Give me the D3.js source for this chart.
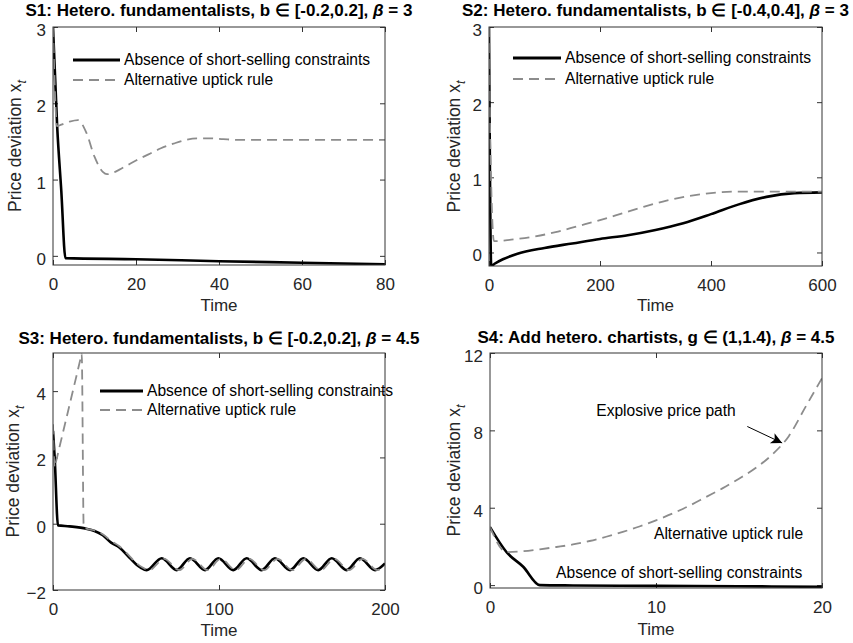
<!DOCTYPE html>
<html>
<head>
<meta charset="utf-8">
<script src="https://cdn.jsdelivr.net/npm/d3@7"></script>
<style>
  body { margin: 0; background: #fff; }
  svg { display: block; font-family: "Liberation Sans", Arial, sans-serif; }
</style>
</head>
<body>
<svg id="chart" width="853" height="643"></svg>
<script>
// ---- data ----
// S1
const s1NoConstraintTime = [0, 1, 2, 3, 20, 40, 60, 80];
const s1NoConstraint     = [3, 1.7, 0.85, -0.03, -0.045, -0.07, -0.09, -0.11];
const s1UptickTime = [0, 1, 2, 4, 6, 8, 10, 12, 13, 14, 16, 18, 20, 23, 26, 29, 32, 35, 38, 41, 45, 50, 60, 70, 80];
const s1Uptick     = [3, 1.7, 1.72, 1.76, 1.78, 1.62, 1.3, 1.1, 1.07, 1.08, 1.13, 1.19, 1.25, 1.33, 1.41, 1.47, 1.52, 1.54, 1.54, 1.53, 1.52, 1.52, 1.52, 1.52, 1.52];

// S2
const s2NoConstraintTime = [0, 4, 10, 25, 50, 100, 150, 200, 250, 300, 350, 400, 450, 500, 550, 600];
const s2NoConstraint     = [3, -0.18, -0.15, -0.09, -0.02, 0.06, 0.12, 0.18, 0.23, 0.3, 0.39, 0.51, 0.64, 0.74, 0.79, 0.8];
const s2UptickTime = [0, 2, 9, 40, 80, 120, 160, 200, 240, 280, 320, 360, 400, 450, 500, 550, 600];
const s2Uptick     = [3, 1.6, 0.15, 0.17, 0.21, 0.27, 0.35, 0.43, 0.52, 0.61, 0.69, 0.75, 0.79, 0.81, 0.81, 0.81, 0.81];

// S3
const s3NoConstraintTime = [0, 1, 3, 10, 20, 25, 30, 35, 40, 45, 50, 53, 56.4, 65.5, 74.5, 82.5, 91.6, 99.6, 108.6, 116.7, 125.7, 133.7, 142.8, 150.8, 159.8, 167.9, 176.9, 184.9, 194, 200];
const s3NoConstraint     = [2.8, 2.0, -0.05, -0.08, -0.15, -0.22, -0.35, -0.57, -0.72, -0.97, -1.22, -1.33, -1.4, -1.04, -1.4, -1.04, -1.4, -1.04, -1.4, -1.04, -1.4, -1.04, -1.4, -1.04, -1.4, -1.04, -1.4, -1.04, -1.4, -1.2];
const s3UptickTime = [0, 1, 2, 9, 16.5, 17.3, 18.5, 20, 25, 30, 35, 40, 45, 50, 54, 57.9, 67, 76, 84, 93.1, 101.1, 110.1, 118.2, 127.2, 135.2, 144.3, 152.3, 161.3, 169.4, 178.4, 186.4, 195.5, 200];
const s3Uptick     = [3, 1.7, 1.91, 3.38, 4.96, 5.13, -0.12, -0.15, -0.2, -0.32, -0.52, -0.68, -0.92, -1.18, -1.32, -1.4, -1.06, -1.4, -1.06, -1.4, -1.06, -1.4, -1.06, -1.4, -1.06, -1.4, -1.06, -1.4, -1.06, -1.4, -1.06, -1.4, -1.26];

// S4
const s4NoConstraintTime = [0, 1, 2, 3, 5, 10, 15, 20];
const s4NoConstraint     = [3, 1.7, 0.95, 0, -0.02, -0.04, -0.06, -0.09];
const s4UptickTime = [0, 1, 2, 3, 4, 5, 6, 7, 8, 9, 10, 11, 12, 13, 14, 15, 16, 17, 18, 19, 20];
const s4Uptick     = [3, 1.7, 1.75, 1.85, 1.97, 2.1, 2.28, 2.5, 2.75, 3.03, 3.35, 3.7, 4.1, 4.55, 5.0, 5.5, 6.05, 6.75, 7.7, 9.2, 10.7];

const legendLabels = ["Absence of short-selling constraints", "Alternative uptick rule"];

const zip = (t, v) => t.map((d, i) => [d, v[i]]);

// ---- layout ----
const panels = [
  { left: 53, right: 385, top: 27, bottom: 265, titleY: 16,
    title: ["S1: Hetero. fundamentalists, b \u2208 [-0.2,0.2], ", "\u03B2", " = 3"],
    xDomain: [0, 80], yDomain: [-0.12, 3], xTicks: [0, 20, 40, 60, 80], yTicks: [0, 1, 2, 3],
    black: zip(s1NoConstraintTime, s1NoConstraint), gray: zip(s1UptickTime, s1Uptick),
    legend: { x: 73, y: 60, len: 47, gap: 20 }, ylabX: 15, xlabY: 311 },
  { left: 489, right: 822, top: 27, bottom: 266, titleY: 16,
    title: ["S2: Hetero. fundamentalists, b \u2208 [-0.4,0.4], ", "\u03B2", " = 3"],
    xDomain: [0, 600], yDomain: [-0.18, 3], xTicks: [0, 200, 400, 600], yTicks: [0, 1, 2, 3],
    black: zip(s2NoConstraintTime, s2NoConstraint), gray: zip(s2UptickTime, s2Uptick),
    legend: { x: 513, y: 58, len: 48, gap: 21 }, ylabX: 454, xlabY: 311 },
  { left: 53, right: 385, top: 353, bottom: 590, titleY: 344,
    title: ["S3: Hetero. fundamentalists, b \u2208 [-0.2,0.2], ", "\u03B2", " = 4.5"],
    xDomain: [0, 200], yDomain: [-2, 5.15], xTicks: [0, 100, 200], yTicks: [-2, 0, 2, 4],
    black: zip(s3NoConstraintTime, s3NoConstraint), gray: zip(s3UptickTime, s3Uptick),
    legend: { x: 100, y: 391, len: 43, gap: 19 }, ylabX: 13, xlabY: 636 },
  { left: 490, right: 822, top: 353, bottom: 588, titleY: 343,
    title: ["S4: Add hetero. chartists, g \u2208 (1,1.4), ", "\u03B2", " = 4.5"],
    xDomain: [0, 20], yDomain: [-0.15, 12], xTicks: [0, 10, 20], yTicks: [0, 4, 8, 12],
    black: zip(s4NoConstraintTime, s4NoConstraint), gray: zip(s4UptickTime, s4Uptick),
    notes: [
      { text: "Explosive price path", t: 6.4, v: 9.0 },
      { text: "Alternative uptick rule", t: 9.88, v: 2.69 },
      { text: "Absence of short-selling constraints", t: 3.98, v: 0.67 }
    ],
    arrow: { from: [15.5, 8.2], to: [17.6, 7.35] },
    ylabX: 454, xlabY: 635 }
];

const svg = d3.select("#chart");
const defs = svg.append("defs");
defs.append("marker")
    .attr("id", "arrowhead")
    .attr("viewBox", "0 0 10 10")
    .attr("refX", 10).attr("refY", 5)
    .attr("markerWidth", 15).attr("markerHeight", 11)
    .attr("markerUnits", "userSpaceOnUse")
    .attr("orient", "auto")
  .append("path")
    .attr("d", "M0,0 L10,5 L0,10 L2.5,5 Z")
    .attr("fill", "#000");

const AXIS = "#333";
const TEXT = "#262626";
const GRAY = "#8c8c8c";

panels.forEach((p, i) => {
  var x = d3.scaleLinear().domain(p.xDomain).range([p.left, p.right]);
  var y = d3.scaleLinear().domain(p.yDomain).range([p.bottom, p.top]);
  var g = svg.append("g");

  // axes, matlab style: ticks inside, box all round
  const styleAxis = (a) => {
    a.attr("font-size", 17).attr("font-family", null);
    a.select(".domain").remove();
    a.selectAll(".tick line").attr("stroke", AXIS);
    a.selectAll(".tick text").attr("fill", TEXT);
  };
  g.append("g").attr("transform", "translate(0," + p.bottom + ")")
    .call(d3.axisBottom(x).tickValues(p.xTicks).tickFormat(d3.format("d"))
      .tickSizeInner(-5).tickSizeOuter(0).tickPadding(13))
    .call(styleAxis);
  g.append("g").attr("transform", "translate(0," + p.top + ")")
    .call(d3.axisTop(x).tickValues(p.xTicks).tickFormat("").tickSizeInner(-5).tickSizeOuter(0))
    .call(styleAxis);
  g.append("g").attr("transform", "translate(" + p.left + ",0)")
    .call(d3.axisLeft(y).tickValues(p.yTicks).tickFormat(d3.format("d"))
      .tickSizeInner(-5).tickSizeOuter(0).tickPadding(7))
    .call(styleAxis)
    .selectAll(".tick text").attr("dy", "0.5em");   // labels sit a touch below the tick, like the original
  g.append("g").attr("transform", "translate(" + p.right + ",0)")
    .call(d3.axisRight(y).tickValues(p.yTicks).tickFormat("").tickSizeInner(-5).tickSizeOuter(0))
    .call(styleAxis);

  // clip so lines stay in the box
  defs.append("clipPath").attr("id", "clip" + i)
    .append("rect")
      .attr("x", p.left).attr("y", p.top)
      .attr("width", p.right - p.left).attr("height", p.bottom - p.top);

  var line = d3.line()
    .x(d => x(d[0]))
    .y(d => y(d[1]))
    .curve(d3.curveMonotoneX);

  var plot = g.append("g").attr("clip-path", "url(#clip" + i + ")");
  plot.append("path")
    .datum(p.black)
    .attr("d", line)
    .attr("fill", "none")
    .attr("stroke", "#000")
    .attr("stroke-width", 2.6)
    .attr("stroke-linejoin", "round");
  plot.append("path")
    .datum(p.gray)
    .attr("d", line)
    .attr("fill", "none")
    .attr("stroke", GRAY)
    .attr("stroke-width", 1.8)
    .attr("stroke-dasharray", "10,6");

  g.append("rect")
    .attr("x", p.left).attr("y", p.top)
    .attr("width", p.right - p.left).attr("height", p.bottom - p.top)
    .attr("fill", "none").attr("stroke", AXIS).attr("stroke-width", 1);

  // title
  var title = g.append("text")
    .attr("x", (p.left + p.right) / 2).attr("y", p.titleY)
    .attr("text-anchor", "middle")
    .attr("font-size", 17).attr("font-weight", "bold").attr("fill", "#000");
  title.append("tspan").text(p.title[0]);
  title.append("tspan").attr("font-style", "italic").text(p.title[1]);
  title.append("tspan").text(p.title[2]);

  // axis labels
  g.append("text")
    .attr("x", (p.left + p.right) / 2).attr("y", p.xlabY)
    .attr("text-anchor", "middle").attr("font-size", 17).attr("fill", TEXT)
    .text("Time");
  var ylab = g.append("text")
    .attr("transform", "translate(" + p.ylabX + "," + ((p.top + p.bottom) / 2) + ") rotate(-90)")
    .attr("text-anchor", "middle").attr("font-size", 17.5).attr("fill", TEXT)
    .attr("dy", "0.35em");
  ylab.append("tspan").text("Price deviation x");
  ylab.append("tspan").attr("font-size", 12.5).attr("font-style", "italic").attr("dy", 5).text("t");

  // legend
  if (p.legend) {
    var L = p.legend;
    [{ stroke: "#000", w: 3, dash: null }, { stroke: GRAY, w: 1.8, dash: "10,6" }].forEach((s, k) => {
      var yy = L.y + k * L.gap;
      g.append("line")
        .attr("x1", L.x).attr("x2", L.x + L.len)
        .attr("y1", yy).attr("y2", yy)
        .attr("stroke", s.stroke).attr("stroke-width", s.w)
        .attr("stroke-dasharray", s.dash);
      g.append("text")
        .attr("x", L.x + L.len + 4).attr("y", yy).attr("dy", "0.35em")
        .attr("font-size", 15.6).attr("fill", "#000")
        .text(legendLabels[k]);
    });
  }

  // annotations (S4)
  if (p.notes) {
    p.notes.forEach(n => {
      g.append("text")
        .attr("x", x(n.t)).attr("y", y(n.v)).attr("dy", "0.35em")
        .attr("font-size", 15.6).attr("fill", "#000")
        .text(n.text);
    });
    g.append("line")
      .attr("x1", x(p.arrow.from[0])).attr("y1", y(p.arrow.from[1]))
      .attr("x2", x(p.arrow.to[0])).attr("y2", y(p.arrow.to[1]))
      .attr("stroke", "#000").attr("stroke-width", 1)
      .attr("marker-end", "url(#arrowhead)");
  }
});
</script>
</body>
</html>
